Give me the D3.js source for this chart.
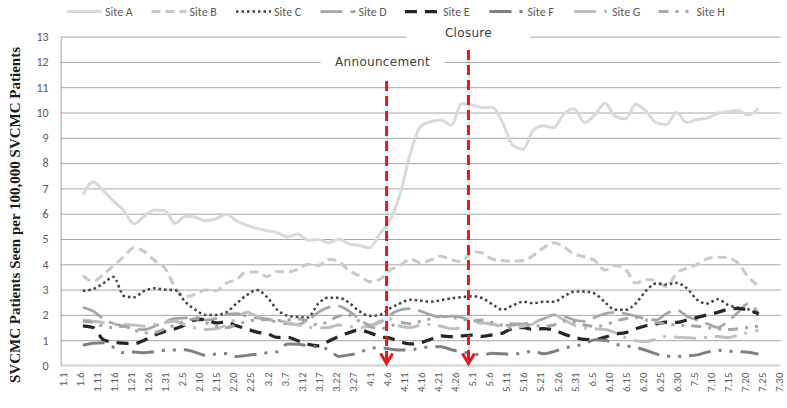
<!DOCTYPE html>
<html>
<head>
<meta charset="utf-8">
<script src="https://cdn.jsdelivr.net/npm/d3@7"></script>
<style>
  body { margin: 0; background: #fff; }
  svg { display: block; }
  text { font-family: Calibri, Carlito, Lato, sans-serif; fill: #595959; }
</style>
</head>
<body>
<svg id="chart" width="787" height="408"></svg>
<script>
// category axis: every day from 1.1 to 7.30
var monthDays = [31, 28, 31, 30, 31, 30, 30];
var dates = [];
monthDays.forEach(function(n, m) {
  for (var d = 1; d <= n; d++) dates.push((m + 1) + "." + d);
});
var tickLabels = dates.filter(function(d, i) { return i % 5 === 0; });

// values, every third day
var sampleDates = ["1.7","1.10","1.13","1.16","1.19","1.22","1.25","1.28","1.31",
  "2.3","2.6","2.9","2.12","2.15","2.18","2.21","2.24","2.27",
  "3.2","3.5","3.8","3.11","3.14","3.17","3.20","3.23","3.26","3.29",
  "4.1","4.4","4.7","4.10","4.13","4.16","4.19","4.22","4.25","4.28",
  "5.1","5.4","5.7","5.10","5.13","5.16","5.19","5.22","5.25","5.28","5.31",
  "6.3","6.6","6.9","6.12","6.15","6.18","6.21","6.24","6.27","6.30",
  "7.3","7.6","7.9","7.12","7.15","7.18","7.21","7.24"];

var siteA = [6.75,7.25,6.9,6.5,6.12,5.6,5.9,6.15,6.12, 5.62,5.9,5.86,5.72,5.8,5.98,5.72,5.55,5.42,
  5.33,5.25,5.08,5.2,4.95,4.98,4.85,5.0,4.8,4.75, 4.65,5.2,5.75,6.8,8.4,9.45,9.64,9.7,9.5,10.35,
  10.3,10.2,10.2,9.6,8.7,8.55,9.3,9.48,9.4,9.95,10.15, 9.6,9.9,10.38,9.85,9.75,10.33,10.05,9.6,9.52,10.0,
  9.6,9.72,9.78,9.97,10.03,10.08,9.9,10.17];
var siteB = [3.55,3.33,3.6,3.95,4.3,4.65,4.5,4.15,3.85, 3.1,2.72,2.82,2.98,2.95,3.25,3.4,3.7,3.7,
  3.52,3.72,3.7,3.8,4.0,3.95,4.2,4.1,3.75,3.55, 3.32,3.4,3.77,3.97,4.2,4.06,4.17,4.32,4.18,4.1,
  4.5,4.45,4.2,4.15,4.12,4.15,4.35,4.65,4.85,4.68,4.4, 4.3,4.15,3.77,3.95,3.8,3.25,3.4,3.35,3.12,3.65,
  3.85,4.0,4.22,4.28,4.26,4.05,3.5,3.15];
var siteC = [2.95,3.02,3.25,3.5,2.75,2.7,2.95,3.05,3.0, 2.98,2.52,2.2,2.0,2.0,2.1,2.45,2.78,2.98,
  2.7,2.2,1.97,1.92,1.9,2.45,2.68,2.68,2.48,2.15, 1.96,2.0,2.26,2.46,2.6,2.56,2.52,2.58,2.66,2.7,
  2.74,2.66,2.42,2.2,2.38,2.52,2.46,2.52,2.52,2.73,2.92, 2.92,2.84,2.5,2.2,2.2,2.45,2.95,3.24,3.2,3.26,
  3.05,2.6,2.45,2.62,2.4,2.28,2.22,2.0];
var siteD = [2.3,2.15,1.85,1.65,1.56,1.45,1.42,1.55,1.72, 1.86,1.88,1.9,1.8,1.85,2.02,2.05,1.95,1.88,
  1.84,1.7,1.65,1.62,1.8,2.1,2.3,2.35,2.15,1.85, 1.6,1.7,2.0,2.2,2.25,2.15,2.0,1.9,1.95,1.9,
  1.75,1.7,1.62,1.58,1.6,1.65,1.7,1.85,2.0,1.95,1.8, 1.75,1.9,2.05,2.1,2.05,1.95,1.85,1.8,2.05,2.2,
  1.95,1.8,1.65,1.5,1.75,2.1,2.45,2.05];
var siteE = [1.57,1.5,1.02,0.92,0.88,0.86,1.0,1.2,1.35, 1.45,1.6,1.8,1.82,1.68,1.72,1.57,1.45,1.32,
  1.26,1.11,1.11,0.98,0.84,0.78,0.96,1.15,1.3,1.4, 1.3,1.14,1.08,0.94,0.85,0.9,1.04,1.17,1.14,1.17,
  1.2,1.15,1.21,1.28,1.47,1.5,1.42,1.46,1.4,1.24,1.12, 1.03,1.02,1.12,1.24,1.3,1.45,1.57,1.64,1.71,1.7,
  1.8,1.9,2.0,2.1,2.22,2.26,2.18,2.05];
var siteF = [0.8,0.88,0.9,0.72,0.5,0.53,0.5,0.55,0.6, 0.61,0.62,0.52,0.4,0.45,0.47,0.36,0.4,0.45,
  0.5,0.55,0.85,0.84,0.78,0.72,0.63,0.36,0.42,0.5, 0.68,0.7,0.65,0.61,0.62,0.68,0.74,0.74,0.62,0.54,
  0.47,0.42,0.48,0.46,0.44,0.5,0.57,0.46,0.55,0.68,0.77, 0.85,1.02,1.0,0.84,0.78,0.72,0.6,0.46,0.38,0.36,
  0.38,0.42,0.53,0.6,0.57,0.55,0.52,0.45];
var siteG = [1.8,1.75,1.7,1.65,1.62,1.6,1.55,1.62,1.7, 1.75,1.6,1.48,1.42,1.45,1.6,1.85,2.1,1.95,
  1.85,1.78,1.7,1.6,1.52,1.48,1.5,1.6,1.55,1.5, 1.55,1.75,1.85,1.55,1.5,1.6,1.62,1.55,1.45,1.5,
  1.62,1.68,1.65,1.52,1.48,1.55,1.65,1.9,2.0,1.8,1.6, 1.48,1.45,1.42,1.3,1.1,0.98,0.95,1.05,1.15,1.12,
  1.1,1.08,1.12,1.15,1.1,1.2,1.3,1.4];
var siteH = [1.75,1.7,1.55,1.5,1.55,1.4,1.28,1.3,1.45, 1.6,1.75,1.85,1.7,1.55,1.5,1.6,1.75,1.8,
  1.82,1.78,1.8,1.85,1.75,1.6,1.75,1.95,2.0,1.75, 1.55,1.45,1.55,1.7,1.65,1.75,1.85,1.95,1.9,1.85,
  1.75,1.8,1.7,1.6,1.65,1.62,1.58,1.55,1.6,1.75,1.72, 1.6,1.55,1.6,1.75,1.85,1.9,1.8,1.7,1.65,1.6,
  1.58,1.55,1.5,1.45,1.42,1.45,1.5,1.55];

var siteNames = ["Site A","Site B","Site C","Site D","Site E","Site F","Site G","Site H"];
var yTicks = [0,1,2,3,4,5,6,7,8,9,10,11,12,13];
var events = [{ label: "Announcement", date: "4.6" }, { label: "Closure", date: "4.30" }];

var styles = [
  { color: "#d9d9d9", width: 3,   dash: null },
  { color: "#c9c9c9", width: 3,   dash: "9,5" },
  { color: "#404040", width: 2.5, dash: "2.5,3" },
  { color: "#a5a5a5", width: 2.75, dash: "22,8" },
  { color: "#262626", width: 3.25, dash: "12,8" },
  { color: "#7f7f7f", width: 3,   dash: "22,8,3,8,3,8" },
  { color: "#bfbfbf", width: 3,   dash: "22,8,3,8" },
  { color: "#a5a5a5", width: 3,   dash: "10,7,3,7,3,7" }
];

var series = [siteA, siteB, siteC, siteD, siteE, siteF, siteG, siteH].map(function(vals, k) {
  return { name: siteNames[k], style: styles[k],
    values: vals.map(function(v, i) { return { date: sampleDates[i], value: v }; }) };
});

var svg = d3.select("#chart");
var plotL = 60.7, plotR = 780.7, plotT = 36.6, plotB = 365.5;

var x = d3.scalePoint().domain(dates).range([plotL, plotR]).padding(0.5);
var y = d3.scaleLinear().domain([0, 13]).range([plotB, plotT]);

// gridlines + y labels
var yAxis = svg.append("g")
  .attr("transform", "translate(" + plotL + ",0)")
  .call(d3.axisLeft(y).tickValues(yTicks).tickSize(-(plotR - plotL)).tickSizeOuter(0).tickPadding(12));
yAxis.select(".domain").attr("stroke", "#a6a6a6");
yAxis.selectAll(".tick line").attr("stroke", "#a6a6a6").attr("stroke-width", 1);
yAxis.selectAll(".tick text").style("font-size", "12px").attr("fill", "#595959");
yAxis.selectAll(".tick").filter(function(d) { return d === 0; }).select("line").remove();

// x axis
var xAxis = svg.append("g")
  .attr("transform", "translate(0," + plotB + ")")
  .call(d3.axisBottom(x).tickValues(tickLabels).tickSize(0).tickSizeOuter(0));
xAxis.select(".domain").attr("stroke", "#d0d0d0").attr("stroke-width", 2)
  .attr("d", "M" + plotL + ",0H" + plotR);
xAxis.selectAll(".tick text")
  .style("font-size", "11px").attr("fill", "#595959")
  .attr("text-anchor", "end")
  .attr("transform", "rotate(-90)")
  .attr("x", -7).attr("y", 0).attr("dy", "0.35em");

// y title
svg.append("text")
  .attr("transform", "translate(20,215) rotate(-90)")
  .attr("text-anchor", "middle")
  .style("font-family", "'Liberation Serif', 'Times New Roman', serif")
  .style("font-weight", "bold").style("font-size", "15px")
  .style("fill", "#1a1a1a")
  .text("SVCMC Patients Seen per 100,000 SVCMC Patients");

// lines
var line = d3.line()
  .x(function(d) { return x(d.date); })
  .y(function(d) { return y(d.value); })
  .curve(d3.curveMonotoneX);

svg.append("g").selectAll("path")
  .data(series)
  .enter().append("path")
  .attr("d", function(d) { return line(d.values); })
  .attr("fill", "none")
  .attr("stroke", function(d) { return d.style.color; })
  .attr("stroke-width", function(d) { return d.style.width; })
  .attr("stroke-dasharray", function(d) { return d.style.dash; });

// event markers
var evTop = [81, 50];
var labelY = [y(12), y(13) - 4];
events.forEach(function(ev, k) {
  var ex = x(ev.date);
  var cx = ex - (k === 0 ? 4 : 0);
  var g = svg.append("g");
  g.append("rect")
    .attr("x", cx - 62).attr("y", labelY[k] - 9)
    .attr("width", 124).attr("height", 18).attr("fill", "#fff");
  g.append("text")
    .attr("x", cx).attr("y", labelY[k])
    .attr("dy", "0.35em").attr("text-anchor", "middle")
    .style("font-family", "'DejaVu Sans', Verdana, sans-serif")
    .style("font-size", "12px").style("letter-spacing", "0.3px").style("fill", "#404040")
    .text(ev.label);
  g.append("line")
    .attr("x1", ex).attr("x2", ex).attr("y1", evTop[k]).attr("y2", plotB - 2)
    .attr("stroke", "#e31a1c").attr("stroke-width", 3).attr("stroke-dasharray", "10,5");
  g.append("path")
    .attr("d", "M" + (ex - 6) + "," + (plotB - 12) + "L" + ex + "," + (plotB - 2) + "L" + (ex + 6) + "," + (plotB - 12))
    .attr("fill", "none").attr("stroke", "#e31a1c").attr("stroke-width", 3);
});

// legend
var legend = svg.append("g").selectAll("g")
  .data(series)
  .enter().append("g")
  .attr("transform", function(d, i) { return "translate(" + (67 + i * 84.5) + ",11.5)"; });
legend.append("line")
  .attr("x1", 0).attr("x2", 35)
  .attr("stroke", function(d) { return d.style.color; })
  .attr("stroke-width", function(d) { return d.style.width; })
  .attr("stroke-dasharray", function(d) { return d.style.dash; });
legend.append("text")
  .attr("x", 38).attr("dy", "0.35em")
  .style("font-size", "12px")
  .text(function(d) { return d.name; });
</script>
</body>
</html>
